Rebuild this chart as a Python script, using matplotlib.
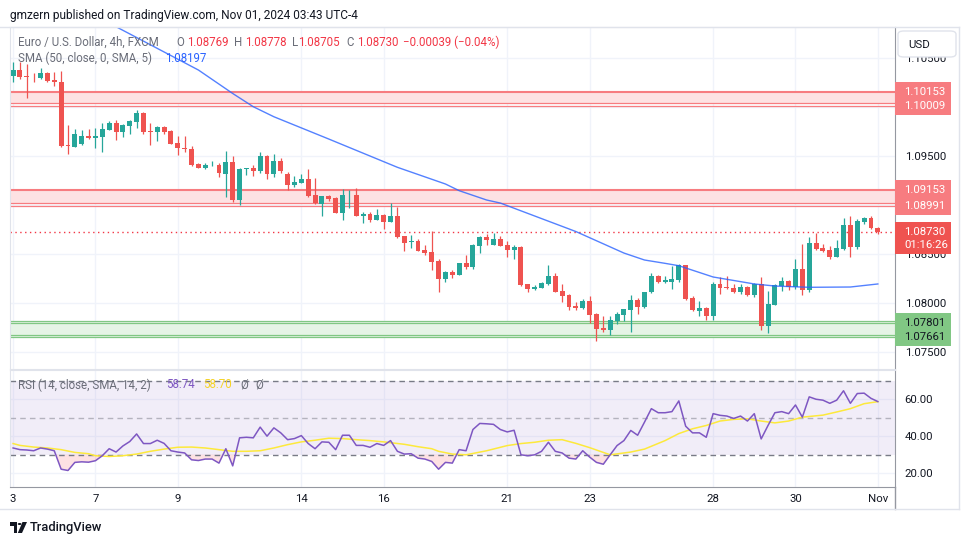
import numpy as np
import matplotlib
matplotlib.use('Agg')
import matplotlib.pyplot as plt
from matplotlib.patches import Rectangle, FancyBboxPatch, Circle, Polygon
from matplotlib.lines import Line2D
from matplotlib.ticker import FormatStrFormatter

plt.rcParams['font.family'] = ['Roboto', 'DejaVu Sans']

###################################
#     Data (EURUSD 4h, FXCM)    ###
###################################

opens = [1.10318, 1.10376, 1.10315, 1.10304, 1.10291, 1.10342, 1.10274, 1.10250, 1.09612, 1.09595,
         1.09619, 1.09704, 1.09680, 1.09697, 1.09768, 1.09833, 1.09741, 1.09809, 1.09850, 1.09938,
         1.09751, 1.09748, 1.09799, 1.09755, 1.09632, 1.09581, 1.09571, 1.09419, 1.09381, 1.09405,
         1.09408, 1.09317, 1.09439, 1.09052, 1.09368, 1.09378, 1.09347, 1.09503, 1.09317, 1.09449,
         1.09317, 1.09208, 1.09228, 1.09266, 1.09099, 1.09015, 1.09093, 1.09072, 1.08923, 1.09099,
         1.09103, 1.08892, 1.08909, 1.08848, 1.08899, 1.08831, 1.08889, 1.08685, 1.08624, 1.08634,
         1.08543, 1.08522, 1.08431, 1.08251, 1.08322, 1.08292, 1.08410, 1.08373, 1.08587, 1.08675,
         1.08594, 1.08655, 1.08594, 1.08543, 1.08573, 1.08197, 1.08146, 1.08159, 1.08197, 1.08278,
         1.08129, 1.08085, 1.07973, 1.07956, 1.08024, 1.07891, 1.07749, 1.07732, 1.07823, 1.07884,
         1.07935, 1.08034, 1.07966, 1.08112, 1.08278, 1.08220, 1.08220, 1.08237, 1.08390, 1.08054,
         1.07925, 1.07952, 1.07871, 1.08197, 1.08166, 1.08156, 1.08115, 1.08163, 1.08085, 1.08197,
         1.07769, 1.07983, 1.08176, 1.08227, 1.08163, 1.08349, 1.08136, 1.08614, 1.08563, 1.08543,
         1.08472, 1.08553, 1.08797, 1.08573, 1.08828, 1.08869, 1.08769]
highs = [1.10461, 1.10461, 1.10433, 1.10342, 1.10393, 1.10352, 1.10359, 1.10366, 1.09816, 1.09775,
         1.09765, 1.09775, 1.09782, 1.09833, 1.09856, 1.09867, 1.09823, 1.09867, 1.09968, 1.09945,
         1.09839, 1.09809, 1.09809, 1.09761, 1.09707, 1.09707, 1.09605, 1.09425, 1.09425, 1.09449,
         1.09425, 1.09551, 1.09500, 1.09378, 1.09374, 1.09408, 1.09537, 1.09510, 1.09520, 1.09476,
         1.09337, 1.09296, 1.09317, 1.09368, 1.09276, 1.09093, 1.09103, 1.09086, 1.09161, 1.09154,
         1.09171, 1.08933, 1.08930, 1.08960, 1.08909, 1.09018, 1.08981, 1.08685, 1.08696, 1.08655,
         1.08594, 1.08736, 1.08451, 1.08332, 1.08339, 1.08414, 1.08492, 1.08604, 1.08685, 1.08702,
         1.08719, 1.08685, 1.08634, 1.08594, 1.08584, 1.08197, 1.08186, 1.08214, 1.08390, 1.08305,
         1.08197, 1.08095, 1.08013, 1.08047, 1.08074, 1.07905, 1.07871, 1.07871, 1.07908, 1.07942,
         1.08085, 1.08051, 1.08118, 1.08312, 1.08288, 1.08278, 1.08380, 1.08400, 1.08390, 1.08074,
         1.08024, 1.07966, 1.08217, 1.08264, 1.08278, 1.08197, 1.08197, 1.08176, 1.08207, 1.08268,
         1.08125, 1.08197, 1.08268, 1.08237, 1.08451, 1.08604, 1.08675, 1.08716, 1.08604, 1.08584,
         1.08645, 1.08869, 1.08889, 1.08858, 1.08879, 1.08889, 1.08778]
lows = [1.10250, 1.10284, 1.10087, 1.10257, 1.10284, 1.10257, 1.10216, 1.09592, 1.09517, 1.09588,
        1.09612, 1.09673, 1.09585, 1.09544, 1.09761, 1.09660, 1.09697, 1.09727, 1.09789, 1.09721,
        1.09612, 1.09656, 1.09721, 1.09619, 1.09510, 1.09544, 1.09402, 1.09374, 1.09368, 1.09398,
        1.09290, 1.09079, 1.09035, 1.09001, 1.09307, 1.09300, 1.09330, 1.09266, 1.09290, 1.09324,
        1.09154, 1.09188, 1.09222, 1.09079, 1.09011, 1.08889, 1.09045, 1.08916, 1.08848, 1.08974,
        1.08889, 1.08821, 1.08831, 1.08848, 1.08757, 1.08828, 1.08668, 1.08533, 1.08567, 1.08529,
        1.08492, 1.08339, 1.08118, 1.08220, 1.08261, 1.08285, 1.08353, 1.08353, 1.08509, 1.08594,
        1.08594, 1.08584, 1.08475, 1.08451, 1.08180, 1.08115, 1.08136, 1.08156, 1.08190, 1.08112,
        1.08017, 1.07932, 1.07932, 1.07945, 1.07803, 1.07620, 1.07708, 1.07681, 1.07789, 1.07823,
        1.07711, 1.07891, 1.07956, 1.08102, 1.08210, 1.08210, 1.08149, 1.08220, 1.08034, 1.07922,
        1.07871, 1.07830, 1.07830, 1.08095, 1.08146, 1.08105, 1.08095, 1.08074, 1.08064, 1.07728,
        1.07698, 1.07983, 1.08125, 1.08136, 1.08146, 1.08085, 1.08115, 1.08543, 1.08522, 1.08451,
        1.08472, 1.08543, 1.08472, 1.08553, 1.08808, 1.08757, 1.08705]
closes = [1.10376, 1.10308, 1.10301, 1.10301, 1.10342, 1.10267, 1.10250, 1.09605, 1.09598, 1.09721,
          1.09704, 1.09680, 1.09704, 1.09775, 1.09836, 1.09741, 1.09816, 1.09856, 1.09938, 1.09748,
          1.09744, 1.09799, 1.09748, 1.09626, 1.09578, 1.09575, 1.09408, 1.09381, 1.09408, 1.09412,
          1.09324, 1.09439, 1.09052, 1.09368, 1.09374, 1.09347, 1.09500, 1.09317, 1.09449, 1.09347,
          1.09208, 1.09235, 1.09266, 1.09096, 1.09018, 1.09093, 1.09062, 1.08923, 1.09103, 1.09106,
          1.08892, 1.08906, 1.08848, 1.08899, 1.08831, 1.08889, 1.08675, 1.08617, 1.08638, 1.08536,
          1.08512, 1.08424, 1.08251, 1.08319, 1.08292, 1.08410, 1.08373, 1.08594, 1.08675, 1.08648,
          1.08655, 1.08587, 1.08543, 1.08573, 1.08186, 1.08149, 1.08163, 1.08203, 1.08278, 1.08118,
          1.08074, 1.07966, 1.07956, 1.08024, 1.07884, 1.07742, 1.07732, 1.07830, 1.07891, 1.07942,
          1.08034, 1.07966, 1.08112, 1.08278, 1.08220, 1.08234, 1.08247, 1.08390, 1.08040, 1.07932,
          1.07952, 1.07871, 1.08197, 1.08156, 1.08156, 1.08115, 1.08163, 1.08085, 1.08197, 1.07769,
          1.07993, 1.08186, 1.08227, 1.08163, 1.08349, 1.08136, 1.08614, 1.08553, 1.08533, 1.08472,
          1.08563, 1.08797, 1.08573, 1.08838, 1.08869, 1.08767, 1.08730]

# SMA 50 read at some candles
sma_idx = [13, 15, 27, 32, 35, 38, 46, 56, 63, 65, 69, 71, 82, 89, 92, 95, 97, 102, 108, 111, 116, 122, 126]
sma_val = [1.10890, 1.10817, 1.10376, 1.10137, 1.10002, 1.09900, 1.09673, 1.09385, 1.09215, 1.09147,
           1.09052, 1.09021, 1.08731, 1.08512, 1.08441, 1.08407, 1.08383, 1.08268, 1.08197, 1.08176,
           1.08163, 1.08166, 1.08197]

rsi = [33.6, 32.7, 32.5, 32.1, 33.6, 33.0, 32.1, 22.1, 21.4, 25.8,
       26.1, 25.9, 26.7, 29.4, 33.2, 31.4, 34.7, 37.1, 41.2, 36.0,
       36.0, 37.8, 36.1, 32.1, 31.4, 30.9, 27.2, 26.8, 27.6, 27.6,
       25.4, 33.2, 23.9, 39.1, 39.4, 39.1, 44.9, 40.0, 44.5, 41.8,
       38.1, 38.7, 40.3, 36.0, 33.2, 36.9, 36.7, 32.7, 40.5, 40.5,
       35.0, 35.0, 34.0, 36.0, 35.0, 37.6, 31.8, 30.3, 30.5, 28.1,
       27.6, 26.3, 22.1, 25.8, 25.4, 32.7, 32.1, 43.6, 46.9, 46.7,
       46.4, 43.6, 42.3, 43.2, 29.9, 29.4, 29.9, 31.8, 36.7, 31.8,
       30.9, 28.1, 27.6, 32.1, 28.7, 25.8, 24.8, 29.9, 34.9, 37.6,
       43.1, 40.5, 47.6, 54.9, 52.7, 52.7, 53.3, 59.1, 45.4, 41.8,
       41.8, 39.4, 52.2, 51.3, 50.9, 49.6, 50.9, 48.2, 52.2, 38.5,
       45.8, 52.7, 53.3, 52.2, 56.9, 50.3, 61.3, 60.0, 59.5, 57.8,
       59.5, 64.6, 57.8, 63.1, 63.3, 60.5, 58.74]

rsi_ma_idx = [0, 1, 3, 5, 7, 9, 11, 12, 14, 16, 18, 20, 22, 24, 26, 28, 30, 32, 34, 36,
              38, 40, 42, 44, 46, 48, 50, 52, 54, 57, 59, 61, 62, 64, 66, 69, 72, 74, 76, 78,
              80, 82, 84, 86, 87, 90, 92, 95, 97, 99, 101, 103, 105, 107, 109, 111, 113, 115, 118, 120,
              122, 124, 126]
rsi_ma_val = [36.0, 35.0, 34.1, 33.6, 32.7, 31.2, 30.5, 29.4, 29.0, 29.4, 30.3, 31.8, 33.0, 34.0, 34.1, 33.6, 32.7, 31.8, 31.8, 32.1,
              33.6, 35.4, 36.9, 37.8, 38.9, 38.7, 38.1, 37.6, 36.9, 35.6, 34.3, 33.2, 31.8, 30.3, 29.9, 32.1, 34.9, 36.0, 36.7, 37.8,
              38.1, 36.1, 33.8, 31.2, 29.9, 31.4, 33.0, 37.6, 41.4, 44.0, 45.8, 48.2, 49.1, 49.4, 48.2, 47.2, 48.2, 50.3, 51.4, 53.1,
              54.9, 57.6, 58.70]

date_idx = [0, 12, 24, 42, 54, 72, 84, 102, 114, 126]
date_labels = ['3', '7', '9', '14', '16', '21', '23', '28', '30', 'Nov']

red_zones = [(1.10153, 1.10009), (1.09153, 1.08991)]
green_zone = (1.07801, 1.07661)
last_price = 1.08730
countdown = '01:16:26'

GREEN = '#26a69a'
RED = '#ef5350'
GRID = '#f0f3fa'
TXT = '#131722'
GREY = '#6a6d78'

###################################
#     Figure                    ###
###################################

W, H = 970, 545
fig = plt.figure(figsize=(W / 100, H / 100), dpi=100)


def fx(x):
    return x / W


def fy(y):
    return 1 - y / H


ax = fig.add_axes([fx(10), fy(369), fx(895) - fx(10), fy(27) - fy(369)])
axr = fig.add_axes([fx(10), fy(487), fx(895) - fx(10), fy(370) - fy(487)], sharex=ax)

idx = np.arange(len(closes))
o = np.array(opens)
h = np.array(highs)
l = np.array(lows)
c = np.array(closes)
col = np.where(c >= o, GREEN, RED)

# zones
for top, bot in red_zones:
    ax.axhspan(bot + 0.00027, top, color='#fde2e3', lw=0, zorder=1)
    ax.axhline(top, color='#f77c80', lw=1.5, zorder=1.2)
    for p in (bot + 0.00027, bot):
        ax.axhline(p, color='#f77c80', lw=0.9, zorder=1.2)
gt, gb = green_zone
ax.axhspan(gb, gt + 0.00016, color='#e6f4e6', lw=0, zorder=1)
for p in (gt + 0.00016, gt, gb + 0.0002, gb):
    ax.axhline(p, color='#81c784', lw=0.9, zorder=1.2)

# candles
ax.vlines(idx, l, h, colors=col, lw=0.9, zorder=3)
ax.bar(idx, np.maximum(np.abs(c - o), 0.000025), bottom=np.minimum(o, c), width=0.72,
       color=col, lw=0, zorder=4)

ax.plot(sma_idx, sma_val, color='#2962ff', lw=1.0, alpha=0.8, zorder=5)
ax.axhline(last_price, color='#f23645', lw=1, ls=(0, (1, 2.5)), zorder=2)

ax.set_xlim(-0.45, 128.5)
ax.set_ylim(1.07331, 1.10814)
ax.set_yticks([1.075, 1.080, 1.085, 1.090, 1.095, 1.100, 1.105])
ax.yaxis.set_major_formatter(FormatStrFormatter('%.5f'))
ax.yaxis.tick_right()
ax.tick_params(axis='y', length=0, pad=7, labelsize=8.2, labelcolor=TXT)
ax.tick_params(axis='x', length=0, labelbottom=False)
ax.grid(True, color=GRID, lw=1, zorder=0)
ax.set_axisbelow(True)

# RSI pane
rsi_a = np.array(rsi)
axr.axhspan(30, 70, color='#7e57c2', alpha=0.1, lw=0)
axr.axhline(70, color='#787b86', lw=1, ls=(0, (4, 3)))
axr.axhline(50, color='#787b86', lw=1, ls=(0, (4, 3)), alpha=0.5)
axr.axhline(30, color='#787b86', lw=1, ls=(0, (4, 3)))
axr.fill_between(idx, rsi_a, 30, where=rsi_a < 30, interpolate=True, color='#f23645', alpha=0.15, lw=0)
axr.plot(rsi_ma_idx, rsi_ma_val, color='#fde93b', lw=1.1)
axr.plot(idx, rsi_a, color='#7e57c2', lw=1.1)
axr.set_ylim(12.46, 75.85)
axr.set_yticks([20, 40, 60])
axr.yaxis.set_major_formatter(FormatStrFormatter('%.2f'))
axr.yaxis.tick_right()
axr.tick_params(axis='y', length=0, pad=7, labelsize=8.2, labelcolor=TXT)
axr.set_xticks(date_idx)
axr.set_xticklabels(date_labels)
axr.tick_params(axis='x', length=0, pad=5, labelsize=8.2, labelcolor=TXT)
axr.grid(True, color=GRID, lw=1)
axr.set_axisbelow(True)

for a in (ax, axr):
    for s in ('top', 'left', 'bottom'):
        a.spines[s].set_color('#e0e3eb')
    a.spines['right'].set_color('#9598a1')
axr.spines['bottom'].set_color('#9598a1')

# price labels on the scale
yt = ax.get_yaxis_transform()


def tag(p_top, p_bot, face, lines, color, pad_top=0.00098, pad_bot=0.00092):
    ax.add_patch(Rectangle((1.0, p_bot - pad_bot), 0.0633, (p_top + pad_top) - (p_bot - pad_bot),
                           transform=yt, facecolor=face, lw=0, clip_on=False, zorder=6))
    for p, s in lines:
        ax.text(1.0102, p, s, transform=yt, ha='left', va='center', fontsize=8.2,
                color=color, clip_on=False, zorder=7)


for top, bot in red_zones:
    tag(top, bot, '#f77c80', [(top, '%.5f' % top), (bot, '%.5f' % bot)], 'white')
tag(last_price, last_price - 0.0014, '#ef5350',
    [(last_price, '%.5f' % last_price), (last_price - 0.0014, countdown)], 'white')
tag(gt, gb, '#81c784', [(gt, '%.5f' % gt), (gb, '%.5f' % gb)], TXT)

# USD button
fig.add_artist(FancyBboxPatch((fx(898), fy(57)), fx(956) - fx(898), fy(31) - fy(57),
                              boxstyle='round,pad=0,rounding_size=0.006', transform=fig.transFigure,
                              facecolor='white', edgecolor='#e0e3eb', lw=1, zorder=10))
fig.text(fx(908), fy(44.5), 'USD', fontsize=8.2, color=TXT, va='center', zorder=11)

# frame lines
fig.add_artist(Line2D([fx(0), fx(959)], [fy(26.5), fy(26.5)], color='#e0e3eb', lw=1))
fig.add_artist(Line2D([fx(959), fx(959)], [fy(26.5), fy(509)], color='#e0e3eb', lw=1))
fig.add_artist(Line2D([fx(895), fx(895)], [fy(487), fy(509)], color='#9598a1', lw=1))
fig.add_artist(Line2D([fx(0), fx(959)], [fy(509), fy(509)], color='#e0e3eb', lw=1))

# header and legends
fs = 8.3
fig.text(fx(10), fy(15), 'gmzern published on TradingView.com, Nov 01, 2024 03:43 UTC-4',
         fontsize=8.6, color=TXT, va='center')
fig.text(fx(18), fy(42.5), 'Euro / U.S. Dollar, 4h, FXCM', fontsize=fs, color=GREY, va='center')
ohlc = [(176.7, 'O', 186.7, '1.08769'), (234, 'H', 245, '1.08778'),
        (291.7, 'L', 298, '1.08705'), (346.7, 'C', 356.7, '1.08730')]
for xl, lab, xv, val in ohlc:
    fig.text(fx(xl), fy(42.5), lab, fontsize=fs, color=GREY, va='center')
    fig.text(fx(xv), fy(42.5), val, fontsize=fs, color='#f23645', va='center')
fig.text(fx(403), fy(42.5), '\u22120.00039 (\u22120.04%)', fontsize=fs, color='#f23645', va='center')
fig.text(fx(18), fy(58.3), 'SMA (50, close, 0, SMA, 5)', fontsize=fs, color=GREY, va='center')
fig.text(fx(165), fy(58.3), '1.08197', fontsize=fs, color='#2962ff', va='center')

fig.text(fx(18), fy(385), 'RSI (14, close, SMA, 14, 2)', fontsize=fs, color=GREY, va='center')
fig.text(fx(166), fy(385), '58.74', fontsize=fs, color='#7e57c2', va='center')
fig.text(fx(203), fy(385), '58.70', fontsize=fs, color='#f5d327', va='center')
fig.text(fx(240), fy(385), '\u00d8', fontsize=fs, color=GREY, va='center')
fig.text(fx(255), fy(385), '\u00d8', fontsize=fs, color=GREY, va='center')

# TradingView logo
fig.add_artist(Rectangle((fx(10), fy(525.5)), fx(17) - fx(10), fy(522) - fy(525.5),
                         transform=fig.transFigure, color=TXT, lw=0))
fig.add_artist(Rectangle((fx(13.5), fy(533)), fx(17) - fx(13.5), fy(522) - fy(533),
                         transform=fig.transFigure, color=TXT, lw=0))
fig.add_artist(Circle((fx(19.6), fy(524)), 0.0019, transform=fig.transFigure, color=TXT, lw=0))
fig.add_artist(Polygon([(fx(22.5), fy(522)), (fx(27), fy(522)), (fx(22), fy(533)), (fx(17.8), fy(533))],
                       transform=fig.transFigure, color=TXT, lw=0))
fig.text(fx(30), fy(527.5), 'TradingView', fontsize=9.3, color=TXT, va='center', fontweight='medium')

plt.savefig('out.png', dpi=100)
